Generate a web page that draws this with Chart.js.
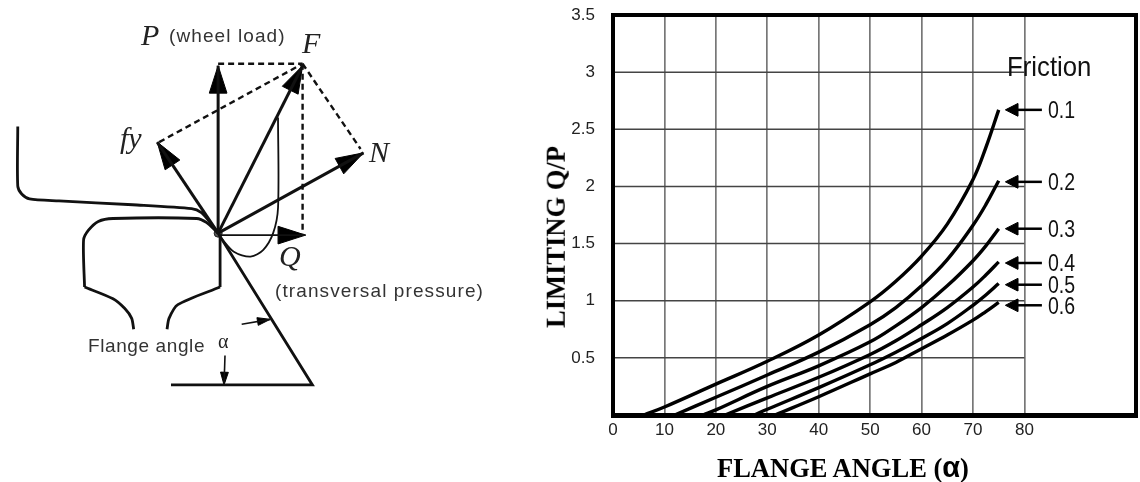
<!DOCTYPE html>
<html>
<head>
<meta charset="utf-8">
<title>Limiting Q/P vs flange angle</title>
<script src="https://cdn.jsdelivr.net/npm/chart.js@4"></script>
<style>
    html, body { margin: 0; background: #fff; }
    #page { position: relative; width: 1140px; height: 482px; overflow: hidden; filter: blur(0.35px); }
    canvas { position: absolute; top: 0; }
    #diagram { left: 0; }
    #limit { left: 540px; }
    .t { position: absolute; white-space: nowrap; line-height: 1; color: #222; transform: translateY(-50%); }
    .sans { font-family: "Liberation Sans", sans-serif; color: #333; letter-spacing: 1.1px; font-size: 19px; }
    .ital { font-family: "Liberation Serif", serif; font-style: italic; font-size: 30px; color: #222; }
    .head { font-family: "Liberation Serif", serif; font-weight: bold; font-size: 26.5px; color: #000; }
    .num { font-family: "Liberation Sans", sans-serif; font-size: 23px; color: #111; transform: translateY(-50%) scaleX(0.85); transform-origin: left center; }
</style>
</head>
<body>
<div id="page">
    <canvas id="diagram" width="560" height="482"></canvas>
    <canvas id="limit" width="600" height="482"></canvas>

    <div class="t ital" style="left:141px;top:35px">P</div>
    <div class="t sans" style="left:169px;top:35px">(wheel load)</div>
    <div class="t ital" style="left:302px;top:43px">F</div>
    <div class="t ital" style="left:120px;top:138px">fy</div>
    <div class="t ital" style="left:369px;top:152px">N</div>
    <div class="t ital" style="left:279px;top:256px">Q</div>
    <div class="t sans" style="left:275px;top:290px">(transversal pressure)</div>
    <div class="t sans" style="left:88px;top:345px;letter-spacing:0.6px">Flange angle</div>
    <div class="t" style="left:218px;top:341px;font-family:'Liberation Serif',serif;font-size:20px">α</div>

    <div class="t num" style="left:1007px;top:67px;font-size:28px;transform:translateY(-50%) scaleX(0.92)">Friction</div>
    <div class="t num" style="left:1048px;top:110px">0.1</div>
    <div class="t num" style="left:1048px;top:182px">0.2</div>
    <div class="t num" style="left:1048px;top:229px">0.3</div>
    <div class="t num" style="left:1048px;top:263px">0.4</div>
    <div class="t num" style="left:1048px;top:285px">0.5</div>
    <div class="t num" style="left:1048px;top:306px">0.6</div>

    <div class="t head" style="left:717px;top:467px">FLANGE ANGLE (<span style="font-family:'Liberation Sans',sans-serif;font-size:29px">α</span>)</div>
    <div class="t head" style="left:556px;top:237px;transform:translate(-50%,-50%) rotate(-90deg)">LIMITING Q/P</div>
</div>

<script>
// Limiting Q/P curves, one angle and value list per friction coefficient
const angles01 = [6, 10, 20, 30, 40, 50, 55, 60, 65, 70, 72.5, 75];
const values01 = [0, 0.07, 0.27, 0.47, 0.7, 0.99, 1.17, 1.39, 1.67, 2.06, 2.34, 2.67];
const angles02 = [12, 20, 30, 40, 50, 55, 60, 65, 70, 72.5, 75];
const values02 = [0, 0.155, 0.35, 0.55, 0.79, 0.94, 1.13, 1.36, 1.66, 1.84, 2.05];
const angles03 = [17.5, 20, 30, 40, 50, 55, 60, 65, 70, 72.5, 75];
const values03 = [0, 0.045, 0.25, 0.43, 0.64, 0.78, 0.94, 1.13, 1.35, 1.48, 1.63];
const angles04 = [21.8, 30, 40, 50, 55, 60, 65, 70, 72.5, 75];
const values04 = [0, 0.15, 0.33, 0.53, 0.65, 0.79, 0.94, 1.12, 1.225, 1.34];
const angles05 = [27.5, 30, 40, 50, 55, 60, 65, 70, 72.5, 75];
const values05 = [0, 0.05, 0.24, 0.44, 0.55, 0.67, 0.8, 0.96, 1.05, 1.15];
const angles06 = [31.5, 40, 50, 55, 60, 65, 70, 72.5, 75];
const values06 = [0, 0.16, 0.36, 0.46, 0.58, 0.7, 0.83, 0.905, 0.985];

const angleSets = [angles01, angles02, angles03, angles04, angles05, angles06];
const valueSets = [values01, values02, values03, values04, values05, values06];

const xTicks = [0, 10, 20, 30, 40, 50, 60, 70, 80];
const yTicks = [0.5, 1, 1.5, 2, 2.5, 3, 3.5];

// friction pointers: the level each arrow sits at
const pointerLevels = [2.67, 2.04, 1.63, 1.33, 1.14, 0.96];
const pointerTip = 76.3;
const pointerTail = 83.4;

// rail and wheel diagram, in page pixels
const wheelLine = [[13,124],[13,185],[17,193],[25,198],[55,200],[130,204],[190,208],[200,212],[208,221],[217,233]];
const railTop = [[217,233],[205,222],[195,218],[110,218],[95,221],[85,230],[80,240],[81,288]];
const railFootLeft = [[81,288],[110,300],[122,310],[129,320],[131,331]];
const railFootRight = [[165,331],[167,320],[176,306],[219,288]];
const railWeb = [[219,288],[219,235]];
const flankLine = [[217,233],[313,388],[169,388]];
const thinRise = [[278,115],[278,207],[273,233],[263,250],[250,257],[233,252],[220,238]];

const solidArrows = [
    [[217,233],[217,62]],
    [[217,233],[303,62]],
    [[217,233],[155,140]],
    [[217,233],[365,151]],
    [[217,235],[306,235]]
];
const thinArrows = [
    [[241,326],[270,321]],
    [[224,358],[223,388]]
];
const dashedLines = [
    [[217,60],[303,60]],
    [[303,60],[303,235]],
    [[303,60],[362,147]],
    [[157,140],[303,60]]
];

function toPoints(path) {
    return path.map(p => ({ x: p[0], y: p[1] }));
}

function strokeSet(path, width, dash) {
    return {
        data: toPoints(path),
        showLine: true,
        pointRadius: 0,
        borderColor: '#111',
        borderWidth: width,
        borderDash: dash || [],
        fill: false
    };
}

// arrowhead as a closed shape at the end of a shaft
function headSet(shaft, length, half) {
    const from = shaft[0], to = shaft[1];
    const d = Math.hypot(to[0] - from[0], to[1] - from[1]);
    const ux = (to[0] - from[0]) / d, uy = (to[1] - from[1]) / d;
    const bx = to[0] - ux * length, by = to[1] - uy * length;
    return {
        data: toPoints([to, [bx - uy * half, by + ux * half], [bx + uy * half, by - ux * half], to]),
        showLine: true,
        pointRadius: 0,
        borderColor: '#000',
        borderWidth: 1,
        backgroundColor: '#000',
        fill: 'shape'
    };
}

const diagramSets = [];
[wheelLine, railTop, railFootLeft, railFootRight].forEach(path => {
    const s = strokeSet(path, 2.8);
    s.tension = 0.25;
    diagramSets.push(s);
});
diagramSets.push(strokeSet(railWeb, 2.8));
diagramSets.push(strokeSet(flankLine, 2.8));
const thinSet = strokeSet(thinRise, 1.8);
thinSet.tension = 0.3;
diagramSets.push(thinSet);
dashedLines.forEach(l => diagramSets.push(strokeSet(l, 2.4, [6, 4])));
solidArrows.forEach((a, i) => {
    diagramSets.push(strokeSet(a, i === 4 ? 1.8 : 3));
    diagramSets.push(headSet(a, 28, 9));
});
thinArrows.forEach(a => {
    diagramSets.push(strokeSet(a, 1.6));
    diagramSets.push(headSet(a, 13, 4));
});
// pivot dot
diagramSets.push({
    data: [{ x: 217, y: 233 }],
    pointRadius: 4,
    pointBackgroundColor: '#555',
    pointBorderColor: '#222',
    showLine: false
});

new Chart(document.getElementById('diagram').getContext('2d'), {
    type: 'scatter',
    data: { datasets: diagramSets },
    options: {
        responsive: false,
        animation: false,
        devicePixelRatio: 1,
        layout: { padding: 0 },
        plugins: { legend: { display: false }, tooltip: { enabled: false } },
        scales: {
            x: { type: 'linear', min: 0, max: 560, display: false },
            y: { type: 'linear', min: 0, max: 482, reverse: true, display: false }
        }
    }
});

// horizontal grid stops at angle 80, and the frame sits on top of everything
const frameAndGrid = {
    id: 'frameAndGrid',
    beforeDatasetsDraw(chart) {
        const { ctx, scales } = chart;
        ctx.save();
        ctx.strokeStyle = '#444';
        ctx.lineWidth = 1.5;
        yTicks.slice(0, -1).forEach(v => {
            const py = scales.y.getPixelForValue(v);
            ctx.beginPath();
            ctx.moveTo(scales.x.getPixelForValue(0), py);
            ctx.lineTo(scales.x.getPixelForValue(80), py);
            ctx.stroke();
        });
        ctx.restore();
    },
    afterDatasetsDraw(chart) {
        const { ctx, chartArea: a } = chart;
        ctx.save();
        ctx.fillStyle = '#000';
        ctx.fillRect(a.left - 2, a.top - 2, a.right - a.left + 4, 4);
        ctx.fillRect(a.left - 2, a.top - 2, 4, a.bottom - a.top + 4);
        ctx.fillRect(a.right - 2, a.top - 2, 4, a.bottom - a.top + 4);
        ctx.fillRect(a.left - 2, a.bottom - 2, a.right - a.left + 4, 5);
        ctx.restore();
    }
};

const limitSets = angleSets.map((angles, i) => ({
    data: angles.map((a, j) => ({ x: a, y: valueSets[i][j] })),
    showLine: true,
    pointRadius: 0,
    borderColor: '#000',
    borderWidth: 3.4,
    tension: 0.4,
    fill: false
}));

pointerLevels.forEach(level => {
    limitSets.push({
        data: [{ x: pointerTip + 2, y: level }, { x: pointerTail, y: level }],
        showLine: true,
        pointRadius: 0,
        borderColor: '#000',
        borderWidth: 2.5,
        fill: false,
        clip: false
    });
    limitSets.push({
        data: [
            { x: pointerTip, y: level },
            { x: pointerTip + 2.4, y: level + 0.055 },
            { x: pointerTip + 2.4, y: level - 0.055 },
            { x: pointerTip, y: level }
        ],
        showLine: true,
        pointRadius: 0,
        borderColor: '#000',
        borderWidth: 1,
        backgroundColor: '#000',
        fill: 'shape'
    });
});

new Chart(document.getElementById('limit').getContext('2d'), {
    type: 'scatter',
    data: { datasets: limitSets },
    plugins: [frameAndGrid],
    options: {
        responsive: false,
        animation: false,
        devicePixelRatio: 1,
        layout: { padding: { top: 15, right: 4, left: 0, bottom: 0 } },
        plugins: { legend: { display: false }, tooltip: { enabled: false } },
        scales: {
            x: {
                type: 'linear',
                min: 0,
                max: 101.7,
                afterBuildTicks(scale) { scale.ticks = xTicks.map(v => ({ value: v })); },
                afterFit(scale) { scale.height = 67; scale.paddingLeft = 0; scale.paddingRight = 0; },
                ticks: {
                    autoSkip: false,
                    maxRotation: 0,
                    color: '#222',
                    padding: 5,
                    font: { family: 'Liberation Sans', size: 17 },
                    callback: v => String(v)
                },
                grid: { color: '#777', lineWidth: 1.7, drawTicks: false },
                border: { display: false }
            },
            y: {
                type: 'linear',
                min: 0,
                max: 3.5,
                afterBuildTicks(scale) { scale.ticks = yTicks.map(v => ({ value: v })); },
                afterFit(scale) { scale.width = 73; scale.paddingTop = 0; scale.paddingBottom = 0; },
                ticks: {
                    autoSkip: false,
                    color: '#222',
                    padding: 10,
                    font: { family: 'Liberation Sans', size: 17 },
                    callback: v => String(v)
                },
                grid: { display: false },
                border: { display: false }
            }
        }
    }
});
</script>
</body>
</html>
